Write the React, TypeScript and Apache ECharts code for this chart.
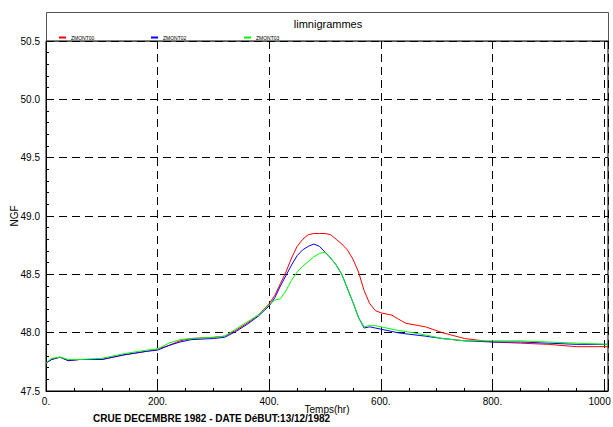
import React, { useEffect, useRef } from "react";
import * as echarts from "echarts";

const times = [0, 10, 25, 40, 60, 100, 140, 180, 200, 220, 240, 260, 300, 320, 340, 360, 380, 400, 410, 420, 430, 440, 450, 460, 470, 480, 490, 500, 510, 520, 530, 540, 550, 560, 570, 580, 590, 600, 620, 630, 645, 680, 710, 750, 800, 850, 900, 950, 1007];

const zmont00 = [47.74, 47.77, 47.79, 47.76, 47.77, 47.77, 47.81, 47.84, 47.86, 47.89, 47.93, 47.95, 47.96, 47.97, 48.02, 48.08, 48.15, 48.25, 48.32, 48.42, 48.52, 48.64, 48.74, 48.8, 48.84, 48.85, 48.85, 48.85, 48.84, 48.8, 48.76, 48.71, 48.63, 48.52, 48.36, 48.25, 48.19, 48.17, 48.15, 48.12, 48.08, 48.05, 48.0, 47.95, 47.92, 47.91, 47.9, 47.88, 47.88];

const zmont02 = [47.74, 47.77, 47.79, 47.76, 47.77, 47.77, 47.81, 47.84, 47.85, 47.89, 47.92, 47.94, 47.95, 47.96, 48.01, 48.07, 48.14, 48.23, 48.3, 48.4, 48.49, 48.58, 48.66, 48.71, 48.74, 48.76, 48.74, 48.69, 48.64, 48.58, 48.5, 48.38, 48.26, 48.13, 48.04, 48.05, 48.04, 48.03, 48.01, 48.0, 47.99, 47.97, 47.95, 47.93, 47.92, 47.92, 47.91, 47.9, 47.9];

const zmont03 = [47.74, 47.78, 47.79, 47.77, 47.77, 47.78, 47.82, 47.85, 47.86, 47.91, 47.94, 47.95, 47.96, 47.97, 48.03, 48.09, 48.15, 48.24, 48.28, 48.29, 48.36, 48.45, 48.52, 48.57, 48.61, 48.65, 48.68, 48.69, 48.64, 48.58, 48.5, 48.38, 48.26, 48.13, 48.05, 48.06, 48.06, 48.05, 48.03, 48.02, 48.01, 47.98, 47.95, 47.93, 47.93, 47.93, 47.92, 47.91, 47.9];

const seriesNames = ["ZMONT00", "ZMONT02", "ZMONT03"];
const seriesColors = ["#ff0000", "#0000ff", "#00ff00"];
const xTickLabels: Record<number, string> = { 0: "0.", 200: "200.", 400: "400.", 600: "600.", 800: "800.", 1000: "{r|1000}" };

const FONT = "Liberation Sans, Arial, Helvetica, sans-serif";

export default function App() {
  const ref = useRef<HTMLDivElement>(null);
  useEffect(() => {
    if (!ref.current) return;
    const chart = echarts.init(ref.current, null, { renderer: "svg" });
    const values = [zmont00, zmont02, zmont03];
    const legendLefts = [59, 151, 244];
    chart.setOption({
      animation: false,
      backgroundColor: "#ffffff",
      textStyle: { fontFamily: FONT },
      title: {
        text: "limnigrammes",
        left: 328,
        top: 18,
        textAlign: "center",
        padding: 0,
        textStyle: { fontSize: 11, fontWeight: "normal", color: "#000", fontFamily: FONT },
      },
      legend: seriesNames.map((name, i) => ({
        left: legendLefts[i],
        top: 35,
        padding: 0,
        itemWidth: 7,
        itemHeight: 2,
        itemGap: 0,
        icon: "rect",
        data: [name],
        textStyle: { fontSize: 5, color: "#000", fontFamily: FONT },
      })),
      grid: {
        left: 46,
        top: 41,
        width: 562,
        height: 350,
        show: true,
        borderColor: "#000",
        borderWidth: 1,
        containLabel: false,
        outerBoundsMode: "none",
      },
      xAxis: {
        type: "value",
        min: 0,
        max: 1007,
        interval: 200,
        name: "Temps(hr)",
        nameLocation: "middle",
        nameGap: 13,
        nameMoveOverlap: false,
        nameTextStyle: { fontSize: 10, color: "#000", fontFamily: FONT, verticalAlign: "top" },
        axisLine: { show: true, lineStyle: { color: "#000" } },
        axisTick: { show: true, inside: true, length: 4, lineStyle: { color: "#000" } },
        minorTick: { show: true, splitNumber: 4, length: 3, lineStyle: { color: "#000" } },
        axisLabel: {
          color: "#000",
          fontSize: 10,
          margin: 5,
          fontFamily: FONT,
          showMaxLabel: true,
          hideOverlap: false,
          formatter: (v: number) => (xTickLabels[v] !== undefined ? xTickLabels[v] : ""),
          rich: { r: { fontSize: 10, color: "#000", fontFamily: FONT, padding: [0, 9, 0, 0] } },
        },
        splitLine: { show: true, lineStyle: { color: "#000", type: [8, 5], width: 1 } },
      },
      yAxis: {
        type: "value",
        min: 47.5,
        max: 50.5,
        interval: 0.5,
        name: "NGF",
        nameLocation: "middle",
        nameRotate: 90,
        nameGap: 27,
        nameMoveOverlap: false,
        nameTextStyle: { fontSize: 10, color: "#000", fontFamily: FONT },
        axisLine: { show: true, lineStyle: { color: "#000" } },
        axisTick: { show: true, inside: true, length: 6, lineStyle: { color: "#000" } },
        minorTick: { show: true, splitNumber: 5, length: 3, lineStyle: { color: "#000" } },
        axisLabel: {
          color: "#000",
          fontSize: 10,
          margin: 6,
          fontFamily: FONT,
          formatter: (v: number) => v.toFixed(1),
        },
        splitLine: { show: true, lineStyle: { color: "#000", type: [8, 5], width: 1 } },
      },
      graphic: [
        {
          type: "rect",
          shape: { x: 46.5, y: 12.5, width: 562, height: 29 },
          style: { fill: "none", stroke: "#555", lineWidth: 1 },
          silent: true,
        },
        {
          type: "text",
          left: 93,
          top: 413,
          style: {
            text: "CRUE DECEMBRE 1982 - DATE DéBUT:13/12/1982",
            fontSize: 10,
            fontWeight: "bold",
            fontFamily: FONT,
            fill: "#000",
          },
        },
      ],
      series: seriesNames.map((name, i) => ({
        name,
        type: "line",
        showSymbol: false,
        symbol: "none",
        color: seriesColors[i],
        lineStyle: { width: 1, color: seriesColors[i] },
        data: times.map((t, j) => [t, values[i][j]]),
        z: 3 + i,
      })),
    });
    return () => chart.dispose();
  }, []);
  return <div ref={ref} style={{ width: 613, height: 427, position: "absolute", left: 0, top: 0 }} />;
}
